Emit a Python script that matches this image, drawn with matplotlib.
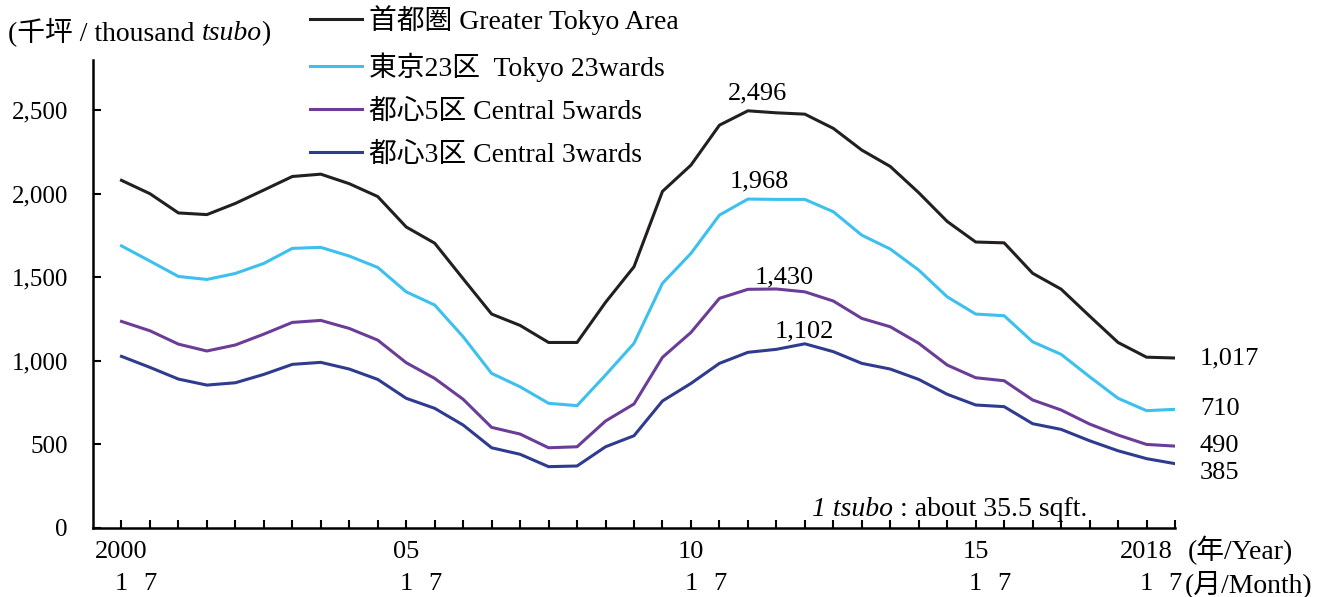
import matplotlib
matplotlib.use('Agg')
import matplotlib.pyplot as plt
import matplotlib.transforms as mtransforms
from matplotlib.ticker import FuncFormatter

plt.rcParams['font.family'] = ['Liberation Serif', 'Noto Sans CJK JP']

# half-year points: 2000 Jan ... 2018 Jul
periods = list(range(38))
year_labels = {0: '2000', 10: '05', 20: '10', 30: '15', 36: '2018'}

greater_tokyo = [2080, 2000, 1885, 1875, 1942, 2022, 2103, 2117, 2060, 1983,
                 1801, 1704, 1491, 1280, 1212, 1110, 1110, 1350, 1563, 2014,
                 2171, 2410, 2496, 2484, 2476, 2391, 2261, 2163, 2006, 1834,
                 1711, 1706, 1524, 1429, 1268, 1110, 1022, 1017]
tokyo23 = [1688, 1597, 1505, 1487, 1523, 1583, 1673, 1679, 1627, 1559,
           1413, 1334, 1144, 925, 845, 746, 732, 915, 1105, 1464,
           1643, 1872, 1968, 1966, 1966, 1892, 1752, 1669, 1543, 1383,
           1280, 1270, 1114, 1039, 905, 776, 702, 710]
central5 = [1236, 1180, 1100, 1059, 1095, 1160, 1230, 1242, 1194, 1124,
            989, 895, 770, 602, 562, 480, 486, 640, 742, 1021,
            1170, 1374, 1428, 1430, 1413, 1358, 1254, 1204, 1105, 975,
            899, 881, 766, 706, 622, 556, 500, 490]
central3 = [1027, 961, 891, 855, 869, 919, 979, 991, 951, 889,
            776, 716, 616, 480, 441, 367, 371, 486, 552, 760,
            865, 985, 1051, 1069, 1102, 1055, 985, 951, 889, 800,
            736, 726, 624, 590, 522, 462, 415, 385]

series = [greater_tokyo, tokyo23, central5, central3]
names = ['首都圏 Greater Tokyo Area', '東京23区  Tokyo 23wards',
         '都心5区 Central 5wards', '都心3区 Central 3wards']
colors = ['#231f20', '#3dc0ee', '#6b3d97', '#2e3b8e']

# peak labels: (series index, point index, pixel offset)
peaks = [(0, 22, (10, 11)), (1, 22, (11, 12)), (2, 23, (8, 6)), (3, 24, (0, 6))]
end_dy = [0, 0, 0, -9]

fig = plt.figure(figsize=(13.2, 5.97), dpi=100)
ax = fig.add_axes([93/1320, 1-528/597, (1175-93)/1320, (528-60)/597])

lines = []
for vals, name, c in zip(series, names, colors):
    ln, = ax.plot(periods, vals, color=c, lw=2.2, label=name)
    lines.append(ln)

for si, pi, (dx, dy) in peaks:
    v = series[si][pi]
    ax.annotate(f'{v:,}', xy=(pi, v), xytext=(dx, dy), textcoords='offset pixels',
                ha='center', va='baseline', fontsize=19)

for vals, dy in zip(series, end_dy):
    ax.annotate(f'{vals[-1]:,}', xy=(periods[-1], vals[-1]), xytext=(25, dy),
                textcoords='offset pixels', ha='left', va='center', fontsize=19)

ax.set_xlim(-1, 37)
ax.set_ylim(0, 2800)
ax.set_yticks(range(0, 2501, 500))
ax.yaxis.set_major_formatter(FuncFormatter(lambda v, p: f'{v:,.0f}'))

ax.set_xticks(periods)
ax.set_xticklabels([year_labels.get(i, '') for i in periods])

# month row under the year labels
trans = mtransforms.blended_transform_factory(ax.transData, fig.transFigure)
for i in year_labels:
    ax.text(i, 1-584/597, '1', transform=trans, ha='center', va='center', fontsize=19)
    ax.text(i + 1, 1-584/597, '7', transform=trans, ha='center', va='center', fontsize=19)

ax.tick_params(axis='both', direction='in', length=6, width=1.5, labelsize=18)
ax.tick_params(axis='x', pad=9, labelsize=19)
ax.tick_params(axis='y', pad=18)
for s in ['top', 'right']:
    ax.spines[s].set_visible(False)
for s in ['left', 'bottom']:
    ax.spines[s].set_linewidth(1.8)

ax.legend(handles=lines, loc='upper left', bbox_to_anchor=(310/1320, 1-5/597),
          bbox_transform=fig.transFigure, frameon=False, fontsize=20,
          handlelength=1.87, handletextpad=0.25, labelspacing=0.63,
          borderaxespad=0, borderpad=0)

# unit label with italic tsubo
t1 = fig.text(8/1320, 1-32/597, '(千坪 / thousand ', fontsize=20, va='center', ha='left')
t2 = ax.annotate('tsubo', xy=(1, 0), xycoords=t1, va='bottom', ha='left',
                 fontsize=20, style='italic')
ax.annotate(')', xy=(1, 0), xycoords=t2, va='bottom', ha='left', fontsize=20)

n1 = fig.text(812/1320, 1-510/597, '1 tsubo', fontsize=20, va='center',
              ha='left', style='italic')
ax.annotate(' : about 35.5 sqft.', xy=(1, 0), xycoords=n1, va='bottom',
            ha='left', fontsize=20)

fig.text(1188/1320, 1-550/597, '(年/Year)', fontsize=20, va='center', ha='left')
fig.text(1185/1320, 1-584/597, '(月/Month)', fontsize=20, va='center', ha='left')

fig.savefig('out.png', dpi=100)
